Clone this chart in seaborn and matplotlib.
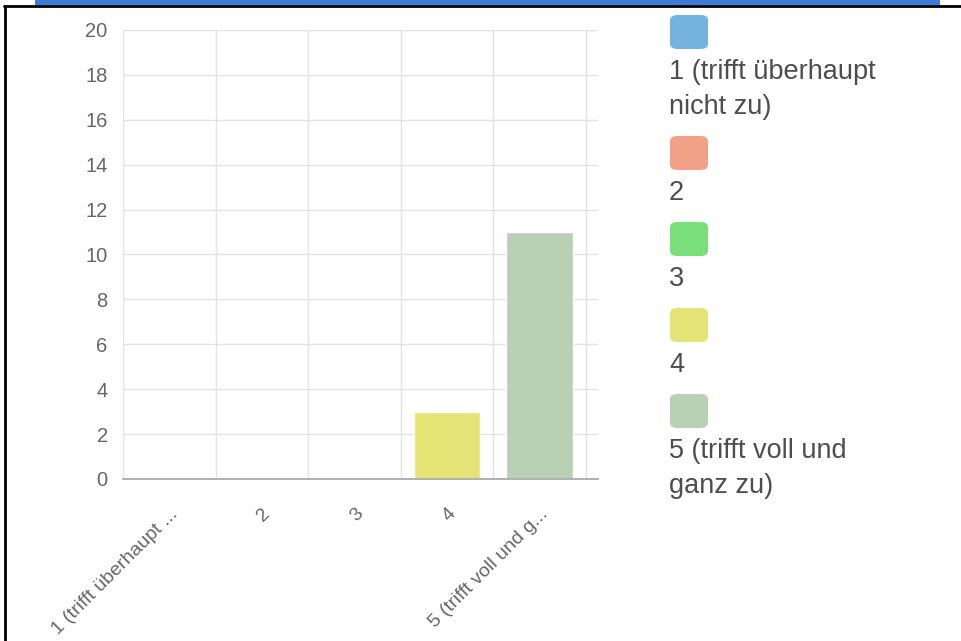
import matplotlib
matplotlib.use("Agg")
import matplotlib.pyplot as plt
import seaborn as sns
from matplotlib.patches import FancyBboxPatch, Rectangle
from matplotlib.lines import Line2D

# data
categories = ["1 (trifft überhaupt nicht zu)", "2", "3", "4", "5 (trifft voll und ganz zu)"]
counts = [0, 0, 0, 3, 11]
tick_labels = ["1 (trifft überhaupt ...", "2", "3", "4", "5 (trifft voll und g..."]
legend_labels = ["1 (trifft überhaupt\nnicht zu)", "2", "3", "4", "5 (trifft voll und\nganz zu)"]
colors = ["#74B3DE", "#F1A186", "#7ADE7A", "#E3E475", "#B8D1B4"]
y_ticks = [0, 2, 4, 6, 8, 10, 12, 14, 16, 18, 20]

sns.set_style("white")
plt.rcParams["font.family"] = ["Liberation Sans", "DejaVu Sans"]

W, H = 961, 641
fig = plt.figure(figsize=(W / 100, H / 100), dpi=100)

def fx(px):
    return px / W

def fy(py):
    return 1 - py / H

# plot area: x from 123 to 598 px, y from 30 to 479 px
ax = fig.add_axes([fx(123), fy(479), fx(598) - fx(123), fy(30) - fy(479)])
sns.barplot(x=categories, y=counts, hue=categories, palette=colors, legend=False,
            width=0.72, saturation=1, ax=ax)

grid_c = "#e3e3e3"
ax.set_ylim(0, 20)
ax.set_xlim(-0.5, 4.5 + 12 / 92.6)
ax.set_yticks(y_ticks)
ax.set_yticklabels([str(t) for t in y_ticks], fontsize=14.5, color="#666666")
ax.set_xticks(range(5))
ax.set_xticklabels(tick_labels, rotation=45, ha="right", rotation_mode="anchor",
                   fontsize=14, color="#666666")
ax.set_xticks([i - 0.5 for i in range(6)], minor=True)
ax.tick_params(axis="x", which="major", length=0, pad=19)
ax.tick_params(axis="x", which="minor", length=10, color=grid_c, width=1)
ax.tick_params(axis="y", length=8, color=grid_c, width=1, pad=3)
ax.grid(True, axis="y", color=grid_c, lw=1)
ax.grid(True, axis="x", which="minor", color=grid_c, lw=1)
ax.set_axisbelow(True)
for s in ["left", "right", "top"]:
    ax.spines[s].set_visible(False)
ax.spines["bottom"].set_color("#aaaaaa")
ax.spines["bottom"].set_linewidth(1.3)
ax.set_xlabel("")
ax.set_ylabel("")

# legend: swatch above label
top = 15
for lab, col in zip(legend_labels, colors):
    fig.patches.append(FancyBboxPatch((fx(670), fy(top + 34)), fx(708) - fx(670), fy(top) - fy(top + 34),
                                      boxstyle="round,pad=0,rounding_size=0.008",
                                      transform=fig.transFigure, facecolor=col, edgecolor="none"))
    fig.text(fx(669), fy(top + 44), lab, fontsize=19.5, color="#4d4d4d", va="top", ha="left",
             linespacing=1.45)
    n = lab.count("\n") + 1
    top += 34 + 35 * n + 17

# screenshot frame
fig.patches.append(Rectangle((fx(35), fy(5)), fx(940) - fx(35), fy(0) - fy(5),
                             transform=fig.transFigure, facecolor="#3F7CD8", edgecolor="none"))
fig.lines.append(Line2D([fx(4), 1], [fy(6), fy(6)], transform=fig.transFigure, color="black", lw=2))
fig.lines.append(Line2D([fx(5), fx(5)], [fy(6), 0], transform=fig.transFigure, color="black", lw=2))

fig.savefig("out.png", dpi=100)
